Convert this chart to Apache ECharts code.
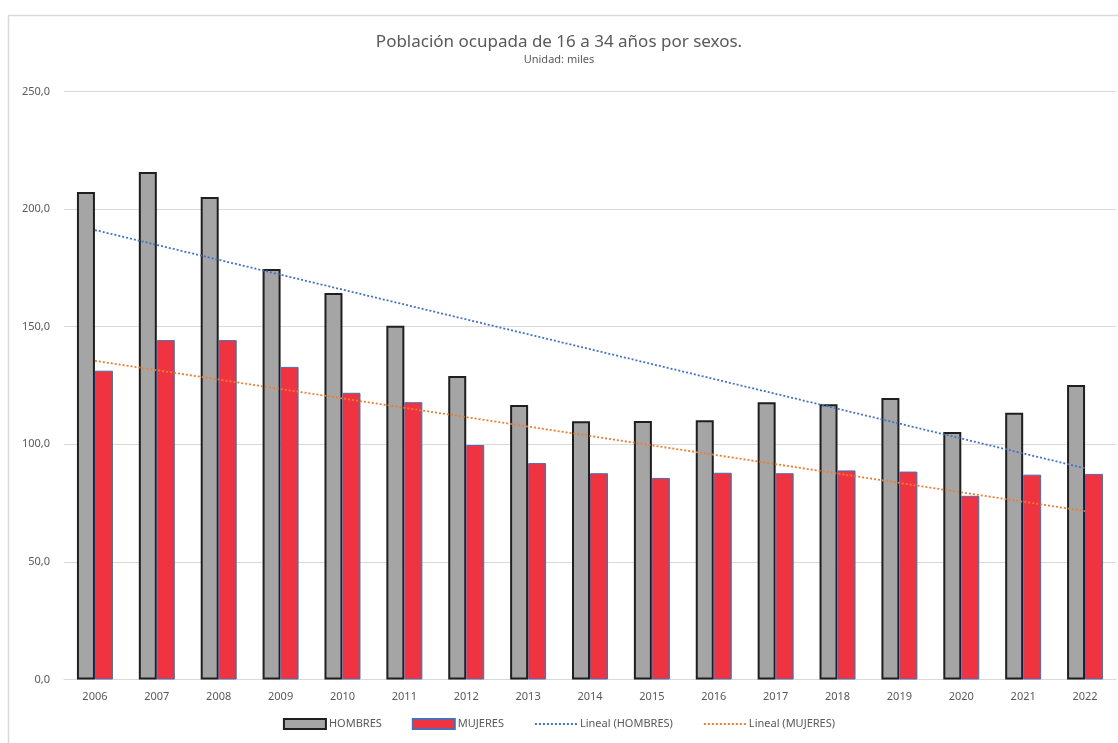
<!DOCTYPE html>
<html>
<head>
<meta charset="utf-8">
<script src="https://cdn.jsdelivr.net/npm/echarts@6/dist/echarts.min.js"></script>
<style>
  html, body { margin: 0; padding: 0; background: #fff; }
  #chart { width: 1118px; height: 743px; }
</style>
</head>
<body>
<div id="chart"></div>
<script>
// años
let years = ['2006', '2007', '2008', '2009', '2010', '2011', '2012', '2013', '2014',
             '2015', '2016', '2017', '2018', '2019', '2020', '2021', '2022'];
// población ocupada (miles)
let hombres = [207.3, 215.8, 205.1, 174.5, 164.3, 150.4, 129.0, 116.7, 109.8,
               109.9, 110.2, 117.9, 117.0, 119.7, 105.2, 113.4, 125.2];
let mujeres = [131.3, 144.3, 144.3, 132.9, 121.9, 117.9, 99.7, 92.0, 87.7,
               85.7, 87.9, 87.7, 88.9, 88.4, 78.1, 87.1, 87.4];
let tendHombres = [['2006', 191.1], ['2022', 89.8]];
let tendMujeres = [['2006', 135.5], ['2022', 71.6]];

let chart = echarts.init(document.getElementById('chart'));
let txt = '#595959';
let font = 'Noto Sans';

let option = {
  animation: false,
  textStyle: { fontFamily: font },
  graphic: [{
    type: 'rect',
    shape: { x: 8.5, y: 15.5, width: 1130, height: 750 },
    style: { fill: 'none', stroke: '#d9d9d9', lineWidth: 1.5 },
    silent: true
  }],
  title: {
    text: 'Población ocupada de 16 a 34 años por sexos.',
    subtext: 'Unidad: miles',
    left: 'center',
    top: 29,
    itemGap: 3,
    textStyle: { color: txt, fontSize: 17, fontWeight: 'normal', fontFamily: font },
    subtextStyle: { color: txt, fontSize: 11, fontFamily: font }
  },
  legend: {
    bottom: 8,
    left: 'center',
    itemWidth: 42,
    itemHeight: 10,
    itemGap: 30,
    textStyle: { color: txt, fontSize: 11, fontFamily: font, padding: [0, 0, 0, -2] },
    data: [
      { name: 'HOMBRES', icon: 'rect' },
      { name: 'MUJERES', icon: 'rect' },
      { name: 'Lineal (HOMBRES)', itemStyle: { opacity: 0 } },
      { name: 'Lineal (MUJERES)', itemStyle: { opacity: 0 } }
    ]
  },
  grid: { left: 64, right: 2, top: 91.5, bottom: 63.5 },
  xAxis: {
    type: 'category',
    data: years,
    axisLine: { lineStyle: { color: '#d9d9d9' } },
    axisTick: { show: false },
    axisLabel: { color: txt, fontSize: 11, margin: 12 }
  },
  yAxis: {
    type: 'value',
    min: 0,
    max: 250,
    interval: 50,
    axisLine: { show: false },
    axisTick: { show: false },
    axisLabel: {
      color: txt, fontSize: 11, margin: 14,
      formatter: function (v) { return v.toFixed(1).replace('.', ','); }
    },
    splitLine: { lineStyle: { color: '#d9d9d9', width: 1 } }
  },
  series: [
    {
      name: 'HOMBRES',
      type: 'bar',
      data: hombres,
      barWidth: 18,
      barGap: '0%',
      itemStyle: { color: '#a5a5a5', borderColor: '#1f1f1f', borderWidth: 2 }
    },
    {
      name: 'MUJERES',
      type: 'bar',
      data: mujeres,
      barWidth: 18,
      barGap: '0%',
      itemStyle: { color: '#ef3340', borderColor: '#4a6fb5', borderWidth: 1 }
    },
    {
      name: 'Lineal (HOMBRES)',
      type: 'line',
      data: tendHombres,
      symbol: 'none',
      z: 5,
      itemStyle: { color: '#4472c4' },
      lineStyle: { color: '#4472c4', width: 1.8, type: [2, 2] }
    },
    {
      name: 'Lineal (MUJERES)',
      type: 'line',
      data: tendMujeres,
      symbol: 'none',
      z: 5,
      itemStyle: { color: '#ed7d31' },
      lineStyle: { color: '#ed7d31', width: 1.8, type: [2, 2] }
    }
  ]
};

chart.setOption(option);
</script>
</body>
</html>
